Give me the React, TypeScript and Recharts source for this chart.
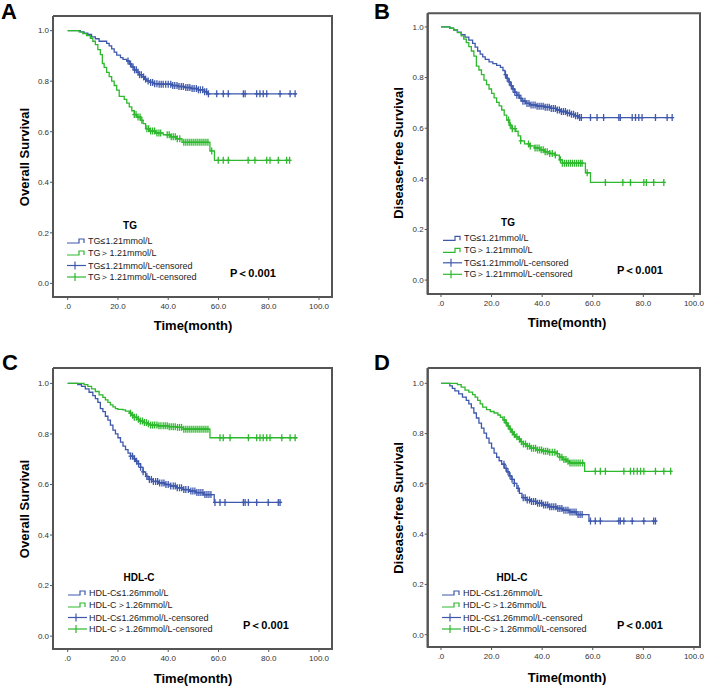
import { ComposedChart, Line, Scatter, XAxis, YAxis } from "recharts";

const BLUE = "#3E58AC";
const GREEN = "#2EB82E";
const FRAME = "#555";
const FONT = '"Liberation Sans", Arial, sans-serif';

// axis ticks
const xTicks = [0, 20, 40, 60, 80, 100];
const yTicks = [0, 0.2, 0.4, 0.6, 0.8, 1.0];

// A: TG, overall survival
const aLowT = [0, 5, 6.5, 8, 9.5, 11, 12.5, 15.5, 16.5, 17.5, 18.5, 19.5, 21, 22, 23.5, 24.5, 25.5, 26.5, 27.5, 28.5, 29.5, 30.5, 31.5, 33, 34.5, 36, 41.5, 44, 46.5, 49, 52, 54.5, 55.5, 91];
const aLowS = [1, 0.995, 0.99, 0.985, 0.975, 0.968, 0.958, 0.95, 0.94, 0.928, 0.915, 0.903, 0.893, 0.886, 0.88, 0.868, 0.856, 0.845, 0.835, 0.826, 0.817, 0.808, 0.801, 0.795, 0.79, 0.788, 0.783, 0.779, 0.775, 0.771, 0.766, 0.758, 0.75, 0.75];
const aLowCens = [24, 25, 26, 26.6, 27.3, 28, 28.6, 29.3, 30.2, 31, 32, 33, 33.8, 34.6, 35.5, 36.4, 37.2, 38, 39, 40, 41, 41.8, 42.6, 43.5, 44.3, 45.2, 46, 47, 47.8, 48.6, 49.5, 50.3, 51.2, 52, 52.8, 53.7, 54.5, 55.3, 56, 59.3, 61.9, 63.9, 69.9, 70.6, 75.2, 76.5, 77.8, 79.2, 84.5, 88.5, 90.5];
const aHighT = [0, 4.5, 6, 7.5, 9, 10, 11, 12, 13, 13.8, 14.5, 15.5, 16.5, 17.5, 18.5, 19.5, 20.5, 22.5, 23.5, 24.5, 25.5, 26.5, 27.5, 29, 30, 31, 32.5, 35, 38, 41, 43.5, 45.5, 56.6, 58.4, 88.3];
const aHighS = [1, 0.995, 0.988, 0.98, 0.97, 0.958, 0.945, 0.925, 0.905, 0.87, 0.855, 0.835, 0.818, 0.8, 0.783, 0.765, 0.74, 0.728, 0.713, 0.698, 0.683, 0.668, 0.658, 0.645, 0.632, 0.612, 0.603, 0.595, 0.588, 0.58, 0.572, 0.558, 0.524, 0.487, 0.487];
const aHighCens = [26.5, 27.2, 28, 28.8, 29.5, 31.5, 32.2, 33, 33.8, 34.6, 35.5, 36.3, 37, 39.6, 40.4, 41.2, 42, 42.8, 43.6, 44.6, 46.2, 47, 47.8, 48.6, 49.4, 50.2, 51, 51.8, 52.6, 53.4, 54.2, 55, 55.8, 57.3, 59.9, 61.9, 63.9, 71.8, 74.5, 79.2, 80.5, 83.8, 87.1, 88.3];

// B: TG, disease-free survival
const bLowT = [0, 3.5, 5, 6.5, 8, 9.5, 11, 12.5, 13.5, 14.5, 15.5, 16.5, 17.5, 19, 20.5, 22, 23.5, 24.5, 25.3, 26, 26.8, 27.6, 28.4, 29.2, 30, 31, 32, 33.5, 35, 38, 41, 43.5, 45.5, 47.5, 49.5, 51.5, 53, 54.5, 91.4];
const bLowS = [1, 0.995, 0.988, 0.98, 0.97, 0.96, 0.948, 0.935, 0.92, 0.905, 0.893, 0.882, 0.872, 0.862, 0.855, 0.848, 0.84, 0.828, 0.812, 0.797, 0.783, 0.768, 0.755, 0.742, 0.73, 0.718, 0.707, 0.698, 0.692, 0.687, 0.683, 0.678, 0.672, 0.666, 0.66, 0.655, 0.649, 0.642, 0.642];
const bLowCens = [25.5, 26.2, 27, 27.8, 28.5, 29.2, 30, 30.8, 31.6, 32.4, 33.2, 34, 34.8, 35.6, 36.4, 37.2, 38, 38.8, 39.6, 40.4, 41.2, 42, 42.8, 43.6, 44.4, 45.2, 46, 46.8, 47.6, 48.4, 49.2, 50, 50.8, 51.6, 52.4, 53.2, 54, 54.8, 55.5, 59.1, 61.7, 64.3, 70.3, 70.9, 75.6, 76.9, 78.2, 79.5, 84.8, 89.4, 91.4];
const bHighT = [0, 3.5, 5, 6.5, 8, 9, 10, 11, 12, 13, 14, 15, 16, 17, 18, 19, 20, 21, 22, 23, 24, 25, 26, 27, 28, 29.5, 30.5, 31.5, 33, 35, 37, 39, 41, 43, 45, 46.8, 48, 57.1, 59.1, 88.1];
const bHighS = [1, 0.995, 0.988, 0.978, 0.965, 0.952, 0.938, 0.922, 0.905, 0.885, 0.845, 0.83, 0.812, 0.79, 0.772, 0.755, 0.738, 0.72, 0.702, 0.688, 0.672, 0.652, 0.632, 0.612, 0.598, 0.588, 0.57, 0.55, 0.538, 0.53, 0.522, 0.515, 0.507, 0.5, 0.494, 0.475, 0.462, 0.424, 0.386, 0.386];
const bHighCens = [26.7, 27.4, 28.2, 29.3, 31.5, 34.6, 35.3, 37.2, 38, 38.8, 39.6, 40.4, 41.2, 42, 43, 44, 45.2, 47.2, 48, 48.8, 49.6, 50.4, 51.2, 52, 52.8, 53.6, 54.4, 55.2, 55.8, 57.8, 65, 71.9, 74.9, 80.2, 81.2, 84.1, 88.1];

// C: HDL-C, overall survival
const cLowT = [0, 4, 5.5, 7, 8.5, 10, 11, 12, 13, 14, 15, 16, 17, 18, 19, 20, 21, 22, 23, 24, 25, 26, 27, 28, 29, 30, 31, 32, 34, 36, 38.5, 41, 43.5, 46, 48.5, 51, 54, 58.3, 85.3];
const cLowS = [1, 0.995, 0.988, 0.978, 0.965, 0.952, 0.94, 0.925, 0.9, 0.888, 0.87, 0.855, 0.835, 0.815, 0.8, 0.785, 0.768, 0.752, 0.738, 0.724, 0.712, 0.702, 0.692, 0.682, 0.668, 0.65, 0.632, 0.62, 0.612, 0.606, 0.6, 0.594, 0.587, 0.58, 0.574, 0.568, 0.56, 0.529, 0.529];
const cLowCens = [25, 25.8, 26.6, 27.4, 28.2, 29, 30, 31.5, 32.5, 33.3, 34.1, 35, 35.8, 36.6, 37.5, 38.3, 39.1, 40, 41, 42, 42.8, 43.6, 44.5, 45.3, 46.2, 47, 48, 49, 49.8, 50.6, 51.4, 52.2, 53, 53.8, 54.6, 55.4, 56.2, 57, 58.6, 60.6, 62.6, 69.9, 70.6, 71.9, 75.2, 79.8, 83.8, 84.5];
const cHighT = [0, 6.5, 8, 9.5, 11, 12.5, 14, 15, 16, 17, 18, 19, 20, 22, 23, 24.5, 25.5, 26.5, 27.5, 28.5, 30, 31.5, 33, 36, 40, 43, 46, 56.6, 91.5];
const cHighS = [1, 0.995, 0.988, 0.978, 0.968, 0.955, 0.945, 0.935, 0.925, 0.915, 0.907, 0.9, 0.897, 0.895, 0.89, 0.882, 0.874, 0.866, 0.858, 0.851, 0.845, 0.84, 0.835, 0.832, 0.829, 0.826, 0.819, 0.785, 0.785];
const cHighCens = [25, 25.8, 26.5, 27.3, 28.1, 28.9, 29.7, 30.5, 31.3, 32.1, 33, 33.8, 34.6, 35.5, 36.3, 37.1, 38, 38.8, 39.6, 40.4, 41.2, 42, 42.8, 43.7, 44.5, 45.3, 46.2, 47, 47.8, 48.6, 49.4, 50.2, 51, 51.8, 52.6, 53.4, 54.2, 55, 55.8, 60.6, 61.9, 64.6, 71.9, 75.2, 76.5, 77.8, 79.2, 80.5, 85.2, 88.5, 90.5];

// D: HDL-C, disease-free survival
const dLowT = [0, 3.5, 4.5, 5.5, 7, 8.5, 10, 11, 12, 13, 14, 15, 16, 17, 18, 19, 20, 21, 22, 23, 24, 25, 26, 27, 28, 29, 30, 31, 32, 33.5, 35.5, 38, 40.5, 43, 45.5, 48, 51, 53.5, 58.5, 85.3];
const dLowS = [1, 0.99, 0.98, 0.97, 0.958, 0.945, 0.932, 0.918, 0.902, 0.882, 0.862, 0.842, 0.822, 0.802, 0.782, 0.762, 0.742, 0.722, 0.706, 0.692, 0.678, 0.662, 0.648, 0.632, 0.618, 0.602, 0.582, 0.562, 0.545, 0.536, 0.53, 0.523, 0.516, 0.509, 0.502, 0.495, 0.488, 0.478, 0.452, 0.452];
const dLowCens = [24.9, 25.7, 26.5, 27.3, 28.1, 29, 30.5, 32.5, 33.3, 34.1, 35, 35.8, 36.6, 37.4, 38.2, 39, 39.8, 40.6, 41.4, 42.2, 43, 43.8, 44.6, 45.4, 46.2, 47, 47.8, 48.6, 49.4, 50.2, 51, 51.8, 52.6, 53.4, 54.2, 55, 55.8, 59.1, 61, 63, 70.3, 70.9, 72.3, 75.6, 80.2, 84.1, 84.8];
const dHighT = [0, 6.5, 8, 9.5, 11, 12.5, 13.5, 14.5, 15.5, 16.5, 18, 19.5, 21, 22.5, 23.5, 24.5, 25.5, 26.3, 27, 27.8, 28.6, 29.5, 30.5, 31.5, 32.5, 34, 35.5, 37.5, 40, 42.5, 45.5, 46.8, 48, 49.5, 51, 56.8, 91.4];
const dHighS = [1, 0.995, 0.985, 0.973, 0.965, 0.955, 0.945, 0.932, 0.918, 0.905, 0.895, 0.888, 0.882, 0.874, 0.865, 0.855, 0.843, 0.83, 0.818, 0.806, 0.796, 0.787, 0.778, 0.768, 0.759, 0.75, 0.742, 0.735, 0.73, 0.726, 0.72, 0.706, 0.697, 0.69, 0.683, 0.65, 0.65];
const dHighCens = [25, 25.8, 26.6, 27.4, 28.2, 29, 30, 31, 31.8, 32.6, 33.4, 34.2, 35, 35.8, 36.6, 37.4, 38.2, 39, 39.8, 40.6, 41.4, 42.2, 43, 44, 45, 46, 47, 47.8, 48.6, 49.4, 50.2, 51, 51.8, 52.6, 53.4, 54.2, 55, 56, 61, 63, 65, 72.3, 74.9, 76.2, 77.6, 78.9, 80.2, 84.8, 88.1, 90.8];

const tgLabels = ["TG≤1.21mmol/L", "TG＞1.21mmol/L", "TG≤1.21mmol/L-censored", "TG＞1.21mmol/L-censored"];
const hdlLabels = ["HDL-C≤1.26mmol/L", "HDL-C＞1.26mmol/L", "HDL-C≤1.26mmol/L-censored", "HDL-C＞1.26mmol/L-censored"];

type Pt = { t: number; s: number };
const toSteps = (t: number[], s: number[]): Pt[] => t.map((v, i) => ({ t: v, s: s[i] }));
// place each censor tick on the step curve
const onCurve = (steps: Pt[], times: number[]): Pt[] =>
  times.map((t) => {
    let s = steps[0].s;
    for (const p of steps) if (p.t <= t) s = p.s;
    return { t, s };
  });

const fmtX = (v: number) => (v === 0 ? ".0" : v.toFixed(1));
const fmtY = (v: number) => v.toFixed(1);

const CensorMark = (props: any) => {
  const { cx, cy, fill } = props;
  if (cx == null || cy == null) return null;
  return (
    <g stroke={fill} strokeWidth={1.3}>
      <line x1={cx} x2={cx} y1={cy - 3.5} y2={cy + 3.5} />
      <line x1={cx - 2} x2={cx + 2} y1={cy} y2={cy} />
    </g>
  );
};

const panels = [
  {
    letter: "A", yTitle: "Overall Survival", legendTitle: "TG", labels: tgLabels,
    box: { left: 0, top: 0, width: 354, height: 340 }, plot: { l: 53, t: 16, r: 332, b: 297 },
    xDomain: [-5.85, 105.17], yDomain: [-0.054, 1.058],
    low: [aLowT, aLowS, aLowCens], high: [aHighT, aHighS, aHighCens],
    letterPos: [1, 19], yTitlePos: [24, 157], xTitlePos: [193, 325], legendX: 67, legendTitleX: 130, pX: 230,
  },
  {
    letter: "B", yTitle: "Disease-free Survival", legendTitle: "TG", labels: tgLabels,
    box: { left: 354, top: 0, width: 355, height: 340 }, plot: { l: 427.7, t: 13.3, r: 700, b: 294 },
    xDomain: [-5.25, 102.4], yDomain: [-0.055, 1.054],
    low: [bLowT, bLowS, bLowCens], high: [bHighT, bHighS, bHighCens],
    letterPos: [374, 19], yTitlePos: [398, 153], xTitlePos: [567, 322], legendX: 443, legendTitleX: 508, pX: 617,
  },
  {
    letter: "C", yTitle: "Overall Survival", legendTitle: "HDL-C", labels: hdlLabels,
    box: { left: 0, top: 340, width: 354, height: 347 }, plot: { l: 53, t: 368, r: 332, b: 649 },
    xDomain: [-5.85, 105.17], yDomain: [-0.051, 1.061],
    low: [cLowT, cLowS, cLowCens], high: [cHighT, cHighS, cHighCens],
    letterPos: [2, 370], yTitlePos: [24, 509], xTitlePos: [193, 678], legendX: 68, legendTitleX: 139, pX: 243,
  },
  {
    letter: "D", yTitle: "Disease-free Survival", legendTitle: "HDL-C", labels: hdlLabels,
    box: { left: 354, top: 340, width: 355, height: 347 }, plot: { l: 427.7, t: 368, r: 700, b: 647 },
    xDomain: [-5.25, 102.4], yDomain: [-0.049, 1.061],
    low: [dLowT, dLowS, dLowCens], high: [dHighT, dHighS, dHighCens],
    letterPos: [374, 370], yTitlePos: [398, 508], xTitlePos: [567, 677], legendX: 442, legendTitleX: 512, pX: 617,
  },
];

const tickStyle = { fontSize: 8, fill: "#333", fontFamily: FONT };

function KmChart({ p }: { p: (typeof panels)[number] }) {
  const { box, plot } = p;
  const lowSteps = toSteps(p.low[0], p.low[1]);
  const highSteps = toSteps(p.high[0], p.high[1]);
  const lowCens = onCurve(lowSteps, p.low[2]);
  const highCens = onCurve(highSteps, p.high[2]);
  return (
    <div style={{ position: "absolute", left: box.left, top: box.top }}>
      <ComposedChart
        width={box.width}
        height={box.height}
        margin={{ top: plot.t - box.top, right: box.left + box.width - plot.r, bottom: 0, left: 0 }}
      >
        <XAxis
          type="number"
          dataKey="t"
          domain={p.xDomain}
          ticks={xTicks}
          interval={0}
          allowDataOverflow
          tickFormatter={fmtX}
          axisLine={{ stroke: FRAME, strokeWidth: 2 }}
          tickLine={{ stroke: "#555" }}
          tickSize={3}
          tickMargin={3}
          height={box.top + box.height - plot.b}
          tick={tickStyle}
        />
        <YAxis
          type="number"
          dataKey="s"
          domain={p.yDomain}
          ticks={yTicks}
          interval={0}
          allowDataOverflow
          tickFormatter={fmtY}
          axisLine={{ stroke: FRAME, strokeWidth: 2 }}
          tickLine={{ stroke: "#555" }}
          tickSize={3}
          tickMargin={1}
          width={plot.l - box.left}
          tick={tickStyle}
        />
        <Line data={lowSteps} dataKey="s" type="stepAfter" stroke={BLUE} strokeWidth={1.3} dot={false} isAnimationActive={false} />
        <Line data={highSteps} dataKey="s" type="stepAfter" stroke={GREEN} strokeWidth={1.3} dot={false} isAnimationActive={false} />
        <Scatter data={lowCens} dataKey="s" fill={BLUE} shape={<CensorMark />} isAnimationActive={false} />
        <Scatter data={highCens} dataKey="s" fill={GREEN} shape={<CensorMark />} isAnimationActive={false} />
      </ComposedChart>
    </div>
  );
}

function Annotations({ p }: { p: (typeof panels)[number] }) {
  const { plot } = p;
  const top = plot.t;
  const rows = [225, 237, 249.5, 261];
  const colors = [BLUE, GREEN, BLUE, GREEN];
  const x0 = p.legendX;
  return (
    <g fontFamily={FONT}>
      <polyline
        points={`${plot.l},${plot.t} ${plot.r},${plot.t} ${plot.r},${plot.b} ${plot.l},${plot.b} ${plot.l},${plot.t}`}
        fill="none"
        stroke={FRAME}
        strokeWidth={2}
      />
      <text x={p.letterPos[0]} y={p.letterPos[1]} fontSize={22} fontWeight="bold" fill="#000">{p.letter}</text>
      <text
        x={p.yTitlePos[0]}
        y={p.yTitlePos[1]}
        fontSize={13}
        fontWeight="bold"
        textAnchor="middle"
        dominantBaseline="central"
        transform={`rotate(-90 ${p.yTitlePos[0]} ${p.yTitlePos[1]})`}
      >
        {p.yTitle}
      </text>
      <text x={p.xTitlePos[0]} y={p.xTitlePos[1]} fontSize={13} fontWeight="bold" textAnchor="middle" dominantBaseline="central">
        Time(month)
      </text>
      <text x={p.legendTitleX} y={top + 209} fontSize={10} fontWeight="bold" textAnchor="middle" dominantBaseline="central">
        {p.legendTitle}
      </text>
      {p.labels.map((label, i) => {
        const y = top + rows[i];
        return (
          <g key={label}>
            {i < 2 ? (
              <path d={`M${x0},${y + 2} H${x0 + 12} V${y - 2} H${x0 + 17} V${y + 2}`} fill="none" stroke={colors[i]} strokeWidth={1.2} />
            ) : (
              <g stroke={colors[i]} strokeWidth={1.2}>
                <line x1={x0} x2={x0 + 19} y1={y} y2={y} />
                <line x1={x0 + 8} x2={x0 + 8} y1={y - 4} y2={y + 4} />
              </g>
            )}
            <text x={x0 + 21} y={y} fontSize={9} fill="#222" dominantBaseline="central">
              {label}
            </text>
          </g>
        );
      })}
      <text x={p.pX} y={top + 257} fontSize={11} fontWeight="bold" dominantBaseline="central">
        P＜0.001
      </text>
    </g>
  );
}

export default function App() {
  return (
    <div style={{ position: "absolute", left: 0, top: 0, width: 709, height: 687, background: "#fff", fontFamily: FONT }}>
      {panels.map((p) => (
        <KmChart key={p.letter} p={p} />
      ))}
      <svg width={709} height={687} style={{ position: "absolute", left: 0, top: 0, pointerEvents: "none" }}>
        {panels.map((p) => (
          <Annotations key={p.letter} p={p} />
        ))}
      </svg>
    </div>
  );
}
